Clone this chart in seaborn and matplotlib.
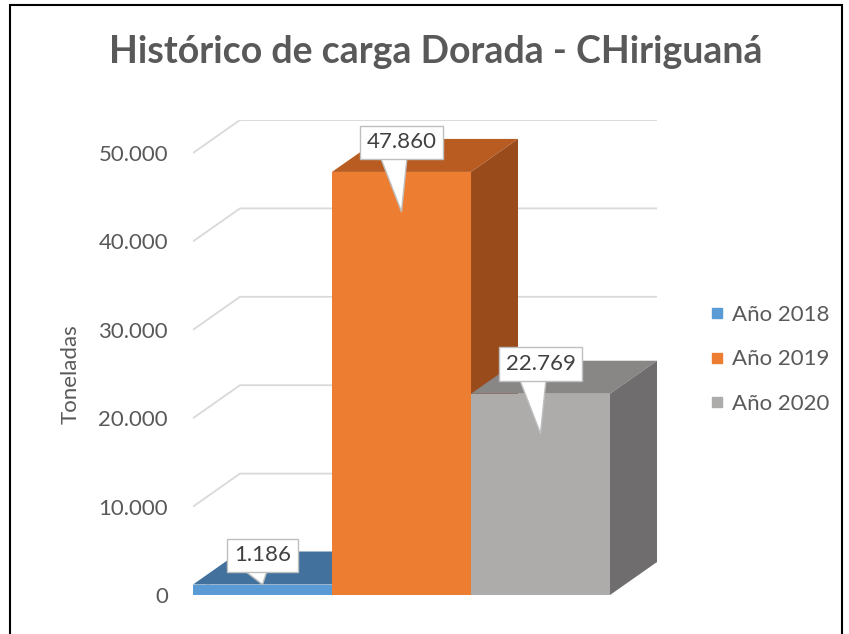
import numpy as np
import pandas as pd
import seaborn as sns
import matplotlib
matplotlib.use("Agg")
import matplotlib.pyplot as plt
from matplotlib.patches import Polygon, Rectangle
from matplotlib.lines import Line2D

# ---- data ----
years = ["Año 2018", "Año 2019", "Año 2020"]
values = [1186, 47860, 22769]
yticks = [0, 10000, 20000, 30000, 40000, 50000]
title = "Histórico de carga Dorada - CHiriguaná"
ylabel = "Toneladas"

# ---- style ----
front_colors = ["#5b9bd5", "#ed7d31", "#aeabab"]
top_colors = ["#41719c", "#b85c22", "#898686"]
side_colors = ["#3a6590", "#9a4b1c", "#6f6d6d"]
text_gray = "#595959"
grid_gray = "#d9d9d9"

sns.set_theme(style="white")
plt.rcParams["font.family"] = ["Lato", "DejaVu Sans"]

W, H = 849, 634
fig = plt.figure(figsize=(W / 100, H / 100), dpi=100)

# depth offsets (data units)
DX = 0.338
DY = 3733
left_px, right_px, bot_px, top_px = 193, 657, 595, 120
ax = fig.add_axes([left_px / W, 1 - bot_px / H, (right_px - left_px) / W, (bot_px - top_px) / H])

df = pd.DataFrame({"year": years, "value": values})
sns.barplot(data=df, x="year", y="value", hue="year", palette=front_colors,
            width=1.0, saturation=1, legend=False, ax=ax)

ax.set_xlim(-0.5, 2.5 + DX)
ax.set_ylim(0, yticks[-1] + DY)

# back-wall gridlines
x_left = -0.5
x_right = 2.5
for v in yticks:
    ax.plot([x_left, x_left + DX, x_right + DX], [v, v + DY, v + DY],
            color=grid_gray, lw=1.3, zorder=1, solid_capstyle="butt")

bars = sorted(ax.patches, key=lambda p: p.get_x())
for i, p in enumerate(bars):
    x0, w, h = p.get_x(), p.get_width(), p.get_height()
    p.set_zorder(3 + 2 * i)
    p.set_edgecolor("none")
    top = Polygon([(x0, h), (x0 + w, h), (x0 + w + DX, h + DY), (x0 + DX, h + DY)],
                  closed=True, facecolor=top_colors[i], edgecolor="none", zorder=2 + 2 * i)
    side = Polygon([(x0 + w, 0), (x0 + w + DX, DY), (x0 + w + DX, h + DY), (x0 + w, h)],
                   closed=True, facecolor=side_colors[i], edgecolor="none", zorder=2 + 2 * i)
    ax.add_patch(top)
    ax.add_patch(side)

    # callout data labels
    cx = x0 + w / 2
    if h > 10000:
        tip = h - 4500
        off = 50
    else:
        tip = h
        off = 21
    lbl = f"{values[i]:,}".replace(",", ".")
    ax.annotate(lbl, xy=(cx, tip), xytext=(0, off), textcoords="offset points",
                ha="center", va="center", fontsize=16, color="#404040", zorder=20,
                bbox=dict(boxstyle="square,pad=0.3", fc="white", ec="#bfbfbf", lw=1),
                arrowprops=dict(arrowstyle="wedge,tail_width=1.3,shrink_factor=0.5",
                                fc="white", ec="#bfbfbf", lw=1, patchA=None,
                                relpos=(0.38, 0.15), shrinkB=0))

ax.set_yticks(yticks)
ax.set_yticklabels([f"{v:,}".replace(",", ".") for v in yticks], fontsize=16, color=text_gray)
ax.tick_params(axis="y", length=0, pad=18)
ax.set_xticks([])
ax.set_xlabel("")
ax.set_ylabel("")
for s in ax.spines.values():
    s.set_visible(False)
ax.patch.set_alpha(0)

fig.text(71 / W, 1 - 374 / H, ylabel, rotation=90, ha="center", va="center",
         fontsize=16, color=text_gray)
fig.text(436 / W, 1 - 52 / H, title, ha="center", va="center", fontsize=27,
         fontweight="bold", color=text_gray)

handles = [Line2D([0], [0], marker="s", linestyle="none", markersize=7.5,
                  markerfacecolor=c, markeredgecolor=c) for c in front_colors]
leg = fig.legend(handles, years, loc="upper left", bbox_to_anchor=(701 / W, 1 - 296 / H),
                 frameon=False, fontsize=16, handlelength=0.6, handletextpad=0.4,
                 labelspacing=1.1, borderaxespad=0)
for t in leg.get_texts():
    t.set_color(text_gray)

# outer border
fig.add_artist(Rectangle((9.5 / W, -0.05), (842 - 9.5) / W, 1 - 5 / H + 0.05,
                         transform=fig.transFigure, fill=False, ec="black", lw=1.5))

fig.savefig("out.png", dpi=100)
